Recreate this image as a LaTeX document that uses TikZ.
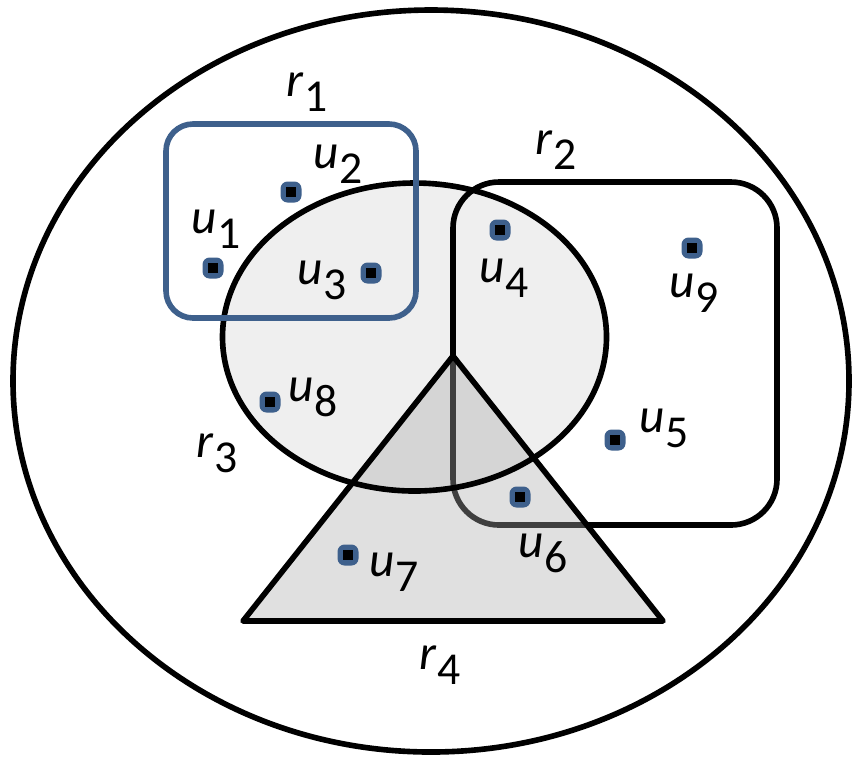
\documentclass[tikz,border=0pt]{standalone}
\usepackage{fontspec}
\setmainfont{Carlito}
\usepackage{xcolor}
\usepackage{tikz}
\usetikzlibrary{positioning,calc}
\definecolor{userblue}{RGB}{62,96,140}
\definecolor{ellgray}{RGB}{239,239,239}
\newcommand{\ulab}[2]{\textit{#1}\raisebox{-0.15cm}{\fontsize{13}{13}\selectfont #2}}
\tikzset{
  region/.style={
    draw=black,
    line width=1.6pt
  },
  user/.style={
    rectangle,
    fill=userblue,
    rounded corners=2pt,
    minimum size=0.21cm,
    inner sep=0pt,
    path picture={
      \fill[black, sharp corners] ([shift={(-0.05,-0.05)}]path picture bounding box.center)
        rectangle ([shift={(0.05,0.05)}]path picture bounding box.center);
    }
  },
  lab/.style={
    inner sep=0pt,
    font=\fontsize{14}{16}\selectfont
  }
}

\begin{document}
\begin{tikzpicture}[node distance=0.4cm]
  \useasboundingbox (0,0) rectangle (8.52,-7.58);

  % Whole space
  \draw[region] (4.31,-3.81) ellipse [x radius=4.18cm, y radius=3.71cm];

  % Region r3 (fill first)
  \fill[ellgray] (4.145,-3.37) ellipse [x radius=1.92cm, y radius=1.54cm];

  % Region r2
  \draw[region, rounded corners=0.46cm] (4.53,-1.82) rectangle (7.77,-5.25);

  % Region r4 (transparent fill)
  \fill[black!33, fill opacity=0.37] (4.53,-3.56) -- (2.43,-6.21) -- (6.63,-6.21) -- cycle;
  \draw[region] (4.145,-3.37) ellipse [x radius=1.92cm, y radius=1.54cm];
  \draw[region, line join=round] (4.53,-3.56) -- (2.43,-6.21) -- (6.63,-6.21) -- cycle;

  % Region r1
  \draw[region, draw=userblue, rounded corners=0.27cm] (1.66,-1.24) rectangle (4.16,-3.18);

  % Region labels
  \node[lab] (r1) at (3.07,-0.92) {\ulab{r}{1}};
  \node[lab] (r2) at (5.56,-1.50) {\ulab{r}{2}};
  \node[lab] (r3) at (2.17,-4.53) {\ulab{r}{3}};
  \node[lab] (r4) at (4.40,-6.65) {\ulab{r}{4}};

  % Users
  \node[user] (u1) at (2.13,-2.68) {};
  \node[user] (u2) at (2.91,-1.92) {};
  \node[user] (u3) at (3.71,-2.73) {};
  \node[user] (u4) at (5.00,-2.30) {};
  \node[user] (u5) at (6.15,-4.40) {};
  \node[user] (u6) at (5.20,-4.97) {};
  \node[user] (u7) at (3.48,-5.55) {};
  \node[user] (u8) at (2.70,-4.02) {};
  \node[user] (u9) at (6.92,-2.48) {};

  % User labels
  \node[lab, above of=u1, xshift=0.03cm, yshift=-0.01cm] {\ulab{u}{1}};
  \node[lab, right of=u2, xshift=0.07cm, yshift=0.28cm] {\ulab{u}{2}};
  \node[lab, left of=u3, xshift=-0.09cm, yshift=-0.07cm] {\ulab{u}{3}};
  \node[lab, below of=u4, xshift=0.04cm, yshift=-0.08cm] {\ulab{u}{4}};
  \node[lab, right of=u5, xshift=0.09cm, yshift=0.12cm] {\ulab{u}{5}};
  \node[lab, below of=u6, xshift=0.23cm, yshift=-0.16cm] {\ulab{u}{6}};
  \node[lab, right of=u7, xshift=0.06cm, yshift=-0.17cm] {\ulab{u}{7}};
  \node[lab, right of=u8, xshift=0.03cm, yshift=0.05cm] {\ulab{u}{8}};
  \node[lab, below of=u9, xshift=0.02cm, yshift=-0.05cm] {\ulab{u}{9}};

\end{tikzpicture}
\end{document}
